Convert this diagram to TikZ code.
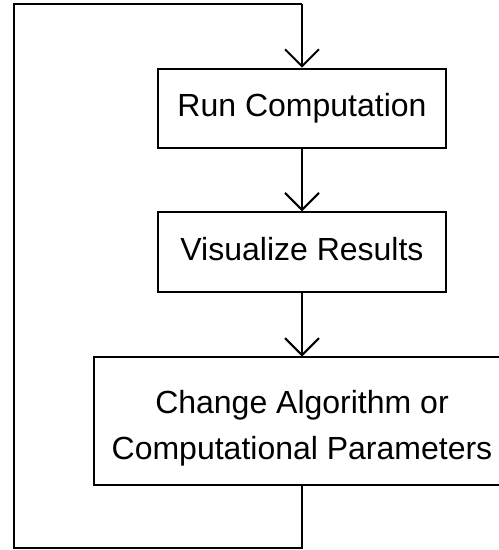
\documentclass[tikz,border=0pt]{standalone}
\usepackage{fontspec}
\setmainfont{Liberation Sans}
\usetikzlibrary{arrows.meta}
\begin{document}
\begin{tikzpicture}[x=1pt,y=-1pt,
  box/.style={draw=black, line width=2pt, inner sep=0pt, align=center,
    font=\fontsize{32}{46.7}\selectfont},
  txt/.style={inner sep=0pt, align=center, font=\fontsize{32}{46.7}\selectfont},
  oneline/.style={text height=23pt, text depth=6.7pt},
  flow/.style={line width=2pt, -{Straight Barb[length=17pt,width=34pt,line width=2pt]}},
  loopline/.style={line width=2pt}]
\useasboundingbox (0,0) rectangle (499,550);
\clip (0,0) rectangle (499,550);
\node[box, oneline, minimum width=288.6pt, minimum height=79.6pt] (run) at (302,108.5) {Run Computation};
\node[box, oneline, minimum width=288.6pt, minimum height=80pt] (vis) at (302,252.3) {Visualize Results};
\node[inner sep=0pt, minimum width=440pt, minimum height=127.6pt] (chg) at (313.7,420.5) {};
\draw[loopline, line join=miter] (chg.north east) -- (chg.north west) -- (chg.south west) -- (chg.south east);
\node[txt] (chgtext) at (302,428.3) {Change Algorithm or\\Computational Parameters};
\coordinate (c1) at (302,547.7);
\coordinate (c2) at (14,547.7);
\coordinate (c3) at (14,4.3);
\coordinate (c4) at (302,4.3);
\draw[flow] (run.south) -- (vis.north);
\draw[flow] (vis.south) -- (vis.south |- chg.north);
\draw[loopline] (vis.south |- chg.south) -- (c1) -- (c2) -- (c3) -- (c4);
\draw[flow] (c4) -- (run.north);
\end{tikzpicture}
\end{document}
